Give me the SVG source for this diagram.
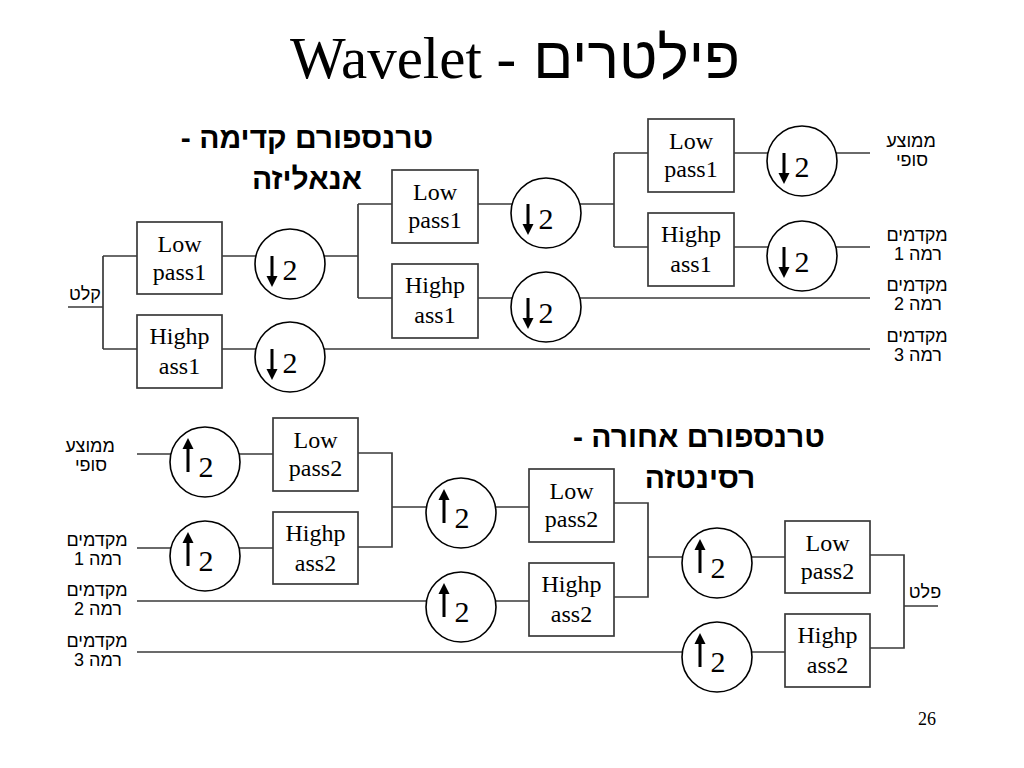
<svg xmlns="http://www.w3.org/2000/svg" xmlns:xlink="http://www.w3.org/1999/xlink" width="1024" height="768" viewBox="0 0 1024 768">
<style>
.wire{fill:none;stroke:#3a3a3a;stroke-width:1.7}
.box{fill:#fff;stroke:#3a3a3a;stroke-width:1.7}
.circ{fill:#fff;stroke:#000;stroke-width:1.6}
.bt{font-family:"Liberation Serif","Times New Roman",serif;font-size:24px;text-anchor:middle;fill:#000}
.two{font-family:"Liberation Serif","Times New Roman",serif;font-size:30px;text-anchor:middle;fill:#000}
.lbl{font-family:"Liberation Sans",Arial,sans-serif;font-size:18px;text-anchor:middle;direction:rtl;unicode-bidi:embed;fill:#000}
.sub{font-family:"Liberation Sans",Arial,sans-serif;font-size:30px;font-weight:bold;text-anchor:middle;direction:rtl;unicode-bidi:embed;fill:#000}
</style>
<defs>
<g id="down"><rect x="-1.5" y="0" width="3" height="22" fill="#000"/><polygon points="-5.5,20 5.5,20 0,31" fill="#000"/></g>
<g id="up"><polygon points="0,0 -5.5,11 5.5,11" fill="#000"/><rect x="-1.5" y="9" width="3" height="25" fill="#000"/></g>
</defs>
<rect width="1024" height="768" fill="#fff"/>
<g id="title">
<text x="290" y="78" font-family="'Liberation Serif','Times New Roman',serif" font-size="59">Wavelet -</text>
<text x="740" y="78" font-family="'Liberation Sans',Arial,sans-serif" font-size="59" text-anchor="end">פילטרים</text>
</g>
<g id="subtitles">
<text class="sub" x="307" y="148">טרנספורם קדימה -</text>
<text class="sub" x="307" y="189">אנאליזה</text>
<text class="sub" x="699" y="447">טרנספורם אחורה -</text>
<text class="sub" x="700" y="488">רסינטזה</text>
</g>
<g id="connectors">
<path class="wire" d="M68,307 H103 M103,256 V349 M103,256 H137 M103,349 H137"/>
<path class="wire" d="M222,256 H358 M358,204 V298 M358,204 H392 M358,298 H392"/>
<path class="wire" d="M222,349 H870"/>
<path class="wire" d="M478,204 H614 M614,153 V247 M614,153 H648 M614,247 H648"/>
<path class="wire" d="M478,298 H870"/>
<path class="wire" d="M734,153 H870 M734,247 H870"/>
<path class="wire" d="M137,454 H273 M137,548 H273"/>
<path class="wire" d="M358,453 H392 V547 H358 M392,507 H529"/>
<path class="wire" d="M137,601 H529"/>
<path class="wire" d="M614,503 H648 V597 H614 M648,557 H785"/>
<path class="wire" d="M137,652 H785"/>
<path class="wire" d="M870,555 H904 V648 H870 M904,606 H938"/>
</g>
<g id="lp1a"><rect class="box" x="137" y="222" width="85" height="72"/><text class="bt" x="179.5" y="252">Low</text><text class="bt" x="179.5" y="280">pass1</text></g>
<g id="hp1a"><rect class="box" x="137" y="315" width="85" height="73"/><text class="bt" x="179.5" y="344">Highp</text><text class="bt" x="179.5" y="374">ass1</text></g>
<g id="ds1a"><circle class="circ" cx="290" cy="264" r="35"/><use xlink:href="#down" href="#down" x="272" y="256"/><text class="two" x="290" y="280">2</text></g>
<g id="ds1b"><circle class="circ" cx="290" cy="357" r="35"/><use xlink:href="#down" href="#down" x="272" y="349"/><text class="two" x="290" y="373">2</text></g>
<g id="lp1b"><rect class="box" x="392" y="170" width="86" height="73"/><text class="bt" x="435" y="200">Low</text><text class="bt" x="435" y="228">pass1</text></g>
<g id="hp1b"><rect class="box" x="392" y="264" width="86" height="74"/><text class="bt" x="435" y="293">Highp</text><text class="bt" x="435" y="323">ass1</text></g>
<g id="ds2a"><circle class="circ" cx="546" cy="213" r="35"/><use xlink:href="#down" href="#down" x="528" y="204"/><text class="two" x="546" y="229">2</text></g>
<g id="ds2b"><circle class="circ" cx="546" cy="307" r="35"/><use xlink:href="#down" href="#down" x="528" y="298"/><text class="two" x="546" y="323">2</text></g>
<g id="lp1c"><rect class="box" x="648" y="119" width="86" height="73"/><text class="bt" x="691" y="149">Low</text><text class="bt" x="691" y="177">pass1</text></g>
<g id="hp1c"><rect class="box" x="648" y="213" width="86" height="73"/><text class="bt" x="691" y="242">Highp</text><text class="bt" x="691" y="272">ass1</text></g>
<g id="ds3a"><circle class="circ" cx="802" cy="161" r="35"/><use xlink:href="#down" href="#down" x="784" y="153"/><text class="two" x="802" y="177">2</text></g>
<g id="ds3b"><circle class="circ" cx="802" cy="256" r="35"/><use xlink:href="#down" href="#down" x="784" y="247"/><text class="two" x="802" y="272">2</text></g>
<g id="labels-top">
<text class="lbl" x="85" y="300">קלט</text>
<text class="lbl" x="911" y="147">ממוצע</text><text class="lbl" x="912" y="166">סופי</text>
<text class="lbl" x="917" y="241">מקדמים</text><text class="lbl" x="918" y="260">רמה 1</text>
<text class="lbl" x="917" y="291">מקדמים</text><text class="lbl" x="918" y="310">רמה 2</text>
<text class="lbl" x="917" y="342">מקדמים</text><text class="lbl" x="918" y="361">רמה 3</text>
</g>
<g id="us1a"><circle class="circ" cx="205" cy="462" r="35"/><use xlink:href="#up" href="#up" x="188" y="438"/><text class="two" x="206" y="477">2</text></g>
<g id="us1b"><circle class="circ" cx="205" cy="556" r="35"/><use xlink:href="#up" href="#up" x="188" y="532"/><text class="two" x="206" y="571">2</text></g>
<g id="lp2a"><rect class="box" x="273" y="418" width="85" height="73"/><text class="bt" x="315.5" y="448">Low</text><text class="bt" x="315.5" y="476">pass2</text></g>
<g id="hp2a"><rect class="box" x="273" y="512" width="85" height="72"/><text class="bt" x="315.5" y="541">Highp</text><text class="bt" x="315.5" y="571">ass2</text></g>
<g id="us2a"><circle class="circ" cx="461" cy="513" r="35"/><use xlink:href="#up" href="#up" x="444" y="489"/><text class="two" x="462" y="528">2</text></g>
<g id="us2b"><circle class="circ" cx="461" cy="607" r="35"/><use xlink:href="#up" href="#up" x="444" y="583"/><text class="two" x="462" y="622">2</text></g>
<g id="lp2b"><rect class="box" x="529" y="469" width="85" height="73"/><text class="bt" x="571.5" y="499">Low</text><text class="bt" x="571.5" y="527">pass2</text></g>
<g id="hp2b"><rect class="box" x="529" y="563" width="85" height="73"/><text class="bt" x="571.5" y="592">Highp</text><text class="bt" x="571.5" y="622">ass2</text></g>
<g id="us3a"><circle class="circ" cx="717" cy="563" r="35"/><use xlink:href="#up" href="#up" x="700" y="539"/><text class="two" x="718" y="578">2</text></g>
<g id="us3b"><circle class="circ" cx="717" cy="657" r="35"/><use xlink:href="#up" href="#up" x="700" y="633"/><text class="two" x="718" y="672">2</text></g>
<g id="lp2c"><rect class="box" x="785" y="521" width="85" height="72"/><text class="bt" x="827.5" y="551">Low</text><text class="bt" x="827.5" y="579">pass2</text></g>
<g id="hp2c"><rect class="box" x="785" y="614" width="85" height="73"/><text class="bt" x="827.5" y="643">Highp</text><text class="bt" x="827.5" y="673">ass2</text></g>
<g id="labels-bottom">
<text class="lbl" x="90" y="452">ממוצע</text><text class="lbl" x="91" y="471">סופי</text>
<text class="lbl" x="97" y="546">מקדמים</text><text class="lbl" x="98" y="565">רמה 1</text>
<text class="lbl" x="97" y="596">מקדמים</text><text class="lbl" x="98" y="615">רמה 2</text>
<text class="lbl" x="97" y="647">מקדמים</text><text class="lbl" x="98" y="666">רמה 3</text>
<text class="lbl" x="925" y="598">פלט</text>
</g>
<text x="927" y="725" font-family="'Liberation Serif','Times New Roman',serif" font-size="18" text-anchor="middle">26</text>
</svg>
